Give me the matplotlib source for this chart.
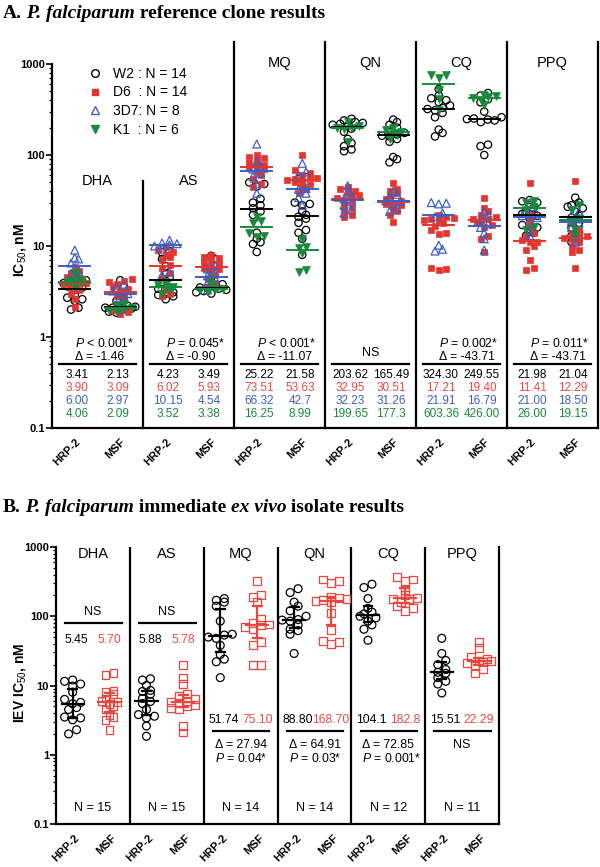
import numpy as np
import matplotlib
matplotlib.use('Agg')
import matplotlib.pyplot as plt
from matplotlib.transforms import blended_transform_factory
from matplotlib.lines import Line2D
from matplotlib.ticker import FixedLocator, NullFormatter, LogLocator

plt.rcParams['font.family'] = ['Liberation Sans', 'DejaVu Sans']
plt.rcParams['mathtext.fontset'] = 'custom'
plt.rcParams['mathtext.rm'] = 'Liberation Sans'
plt.rcParams['mathtext.it'] = 'Liberation Sans:italic'
plt.rcParams['mathtext.bf'] = 'Liberation Sans:bold'

# ---------------- categories ----------------
drugs = ['DHA', 'AS', 'MQ', 'QN', 'CQ', 'PPQ']
sites = ['HRP-2', 'MSF']
clones = ['W2', 'D6', '3D7', 'K1']
clone_legend = ['W2 : N = 14', 'D6  : N = 14', '3D7: N = 8', 'K1  : N = 6']

# ---------------- Panel A: reference clone IC50 (nM) ----------------
A_DHA_HRP2_W2 = [2.0, 2.1, 2.5, 2.6, 2.7, 2.9, 3.3, 3.5, 3.6, 3.8, 3.9, 4.0, 4.2, 4.5]
A_DHA_HRP2_D6 = [2.15, 2.6, 3.0, 3.3, 3.5, 3.8, 3.9, 3.9, 4.1, 4.3, 4.6, 5.0, 5.3, 5.9]
A_DHA_HRP2_3D7 = [4.3, 4.6, 5.0, 5.5, 6.5, 7.2, 7.4, 9.0]
A_DHA_HRP2_K1 = [3.6, 3.9, 4.0, 4.1, 4.3, 5.0]
A_DHA_MSF_W2 = [1.85, 1.9, 2.0, 2.05, 2.1, 2.1, 2.1, 2.15, 2.2, 2.5, 2.7, 3.3, 3.6, 4.2]
A_DHA_MSF_D6 = [1.8, 1.9, 2.0, 2.3, 2.6, 2.8, 3.0, 3.2, 3.4, 3.6, 3.8, 4.0, 4.1, 4.3]
A_DHA_MSF_3D7 = [2.0, 2.3, 2.6, 2.9, 3.0, 3.2, 3.5, 3.8]
A_DHA_MSF_K1 = [1.9, 2.0, 2.05, 2.1, 2.2, 2.3]

A_AS_HRP2_W2 = [2.6, 2.8, 2.9, 3.0, 3.1, 3.4, 4.0, 4.5, 4.9, 6.0, 7.2, 7.8, 8.5, 8.8]
A_AS_HRP2_D6 = [2.8, 3.0, 3.3, 3.8, 4.5, 5.0, 5.8, 6.2, 7.0, 7.5, 8.0, 8.5, 9.0, 9.8]
A_AS_HRP2_3D7 = [4.8, 5.2, 9.5, 10.0, 10.3, 10.6, 10.8, 11.6]
A_AS_HRP2_K1 = [3.0, 3.3, 3.5, 3.55, 3.7, 4.0]
A_AS_MSF_W2 = [3.0, 3.1, 3.2, 3.3, 3.4, 3.45, 3.5, 3.6, 3.8, 4.5, 5.5, 6.5, 7.2, 7.8]
A_AS_MSF_D6 = [3.5, 3.9, 4.3, 4.8, 5.2, 5.6, 5.8, 6.0, 6.3, 6.6, 7.0, 7.3, 7.6, 8.0]
A_AS_MSF_3D7 = [3.3, 3.6, 4.0, 4.4, 4.7, 5.0, 5.6, 6.2]
A_AS_MSF_K1 = [3.1, 3.3, 3.35, 3.4, 3.7, 4.3]

A_MQ_HRP2_W2 = [8.6, 10.5, 11, 12, 14, 22, 24, 26, 28, 30, 33, 45, 48, 50]
A_MQ_HRP2_D6 = [44, 48, 55, 60, 65, 70, 72, 75, 78, 82, 88, 92, 95, 100]
A_MQ_HRP2_3D7 = [38, 48, 58, 63, 70, 75, 85, 132]
A_MQ_HRP2_K1 = [12.5, 13, 14, 18, 19, 21]
A_MQ_MSF_W2 = [8, 12, 14, 15, 18, 20, 21, 22, 24, 28, 29, 30, 55, 57]
A_MQ_MSF_D6 = [38, 42, 45, 48, 50, 52, 53, 54, 56, 58, 60, 63, 68, 100]
A_MQ_MSF_3D7 = [28, 34, 38, 42, 43, 60, 65, 81]
A_MQ_MSF_K1 = [5.2, 5.4, 8.4, 9.6, 9.8, 12]

A_QN_HRP2_W2 = [110, 115, 125, 135, 150, 180, 195, 210, 215, 220, 225, 230, 240, 250]
A_QN_HRP2_D6 = [21, 22, 24, 26, 28, 31, 32, 34, 35, 36, 38, 40, 42, 45]
A_QN_HRP2_3D7 = [23, 25, 28, 31, 33, 36, 40, 46]
A_QN_HRP2_K1 = [140, 195, 200, 200, 210, 230]
A_QN_MSF_W2 = [83, 90, 95, 140, 150, 160, 163, 168, 175, 185, 200, 215, 230, 245]
A_QN_MSF_D6 = [18.5, 22, 24, 26, 28, 29, 30, 31, 33, 35, 38, 40, 42, 49]
A_QN_MSF_3D7 = [24, 26, 29, 31, 31.5, 34, 37, 40]
A_QN_MSF_K1 = [150, 165, 175, 180, 190, 200]

A_CQ_HRP2_W2 = [160, 175, 190, 260, 290, 310, 320, 330, 350, 380, 400, 420, 450, 530]
A_CQ_HRP2_D6 = [5.4, 5.6, 5.8, 13.5, 14, 15, 16.5, 18, 19, 19.5, 20, 20.5, 21, 22]
A_CQ_HRP2_3D7 = [8.8, 9.2, 10.2, 21, 23, 29, 29.5, 30]
A_CQ_HRP2_K1 = [310, 410, 520, 700, 750, 760]
A_CQ_MSF_W2 = [100, 125, 130, 230, 240, 245, 248, 252, 260, 300, 380, 410, 450, 480]
A_CQ_MSF_D6 = [8.6, 12, 13, 16, 17, 18, 19, 19.8, 20, 21, 22, 24, 26, 34]
A_CQ_MSF_3D7 = [9, 12, 14, 16, 17.5, 20, 22, 24]
A_CQ_MSF_K1 = [350, 400, 420, 430, 440, 460]

A_PPQ_HRP2_W2 = [13, 14, 15, 16, 17, 20, 21.5, 22.5, 24, 26, 28, 30, 31, 32]
A_PPQ_HRP2_D6 = [5.4, 5.8, 7, 9, 10, 11, 11.2, 11.6, 13, 14, 16, 19, 22, 49]
A_PPQ_HRP2_3D7 = [13, 15, 19, 20.5, 21.5, 24, 27, 30]
A_PPQ_HRP2_K1 = [15, 16, 25, 27, 30, 31]
A_PPQ_MSF_W2 = [11, 12, 13, 14, 16, 18, 20.5, 21.5, 24, 26, 27, 28, 30, 34]
A_PPQ_MSF_D6 = [5.7, 8.5, 9, 10, 11, 12, 12.2, 12.4, 13, 14, 15, 18, 20, 52]
A_PPQ_MSF_3D7 = [11, 13, 16, 18, 19, 20, 22, 24]
A_PPQ_MSF_K1 = [13, 15, 18.5, 19.8, 25, 28]

# medians (table) per column: DHA-HRP2, DHA-MSF, AS-HRP2, ...
A_MED_W2 = ['3.41', '2.13', '4.23', '3.49', '25.22', '21.58', '203.62', '165.49', '324.30', '249.55', '21.98', '21.04']
A_MED_D6 = ['3.90', '3.09', '6.02', '5.93', '73.51', '53.63', '32.95', '30.51', '17.21', '19.40', '11.41', '12.29']
A_MED_3D7 = ['6.00', '2.97', '10.15', '4.54', '66.32', '42.7', '32.23', '31.26', '21.91', '16.79', '21.00', '18.50']
A_MED_K1 = ['4.06', '2.09', '3.52', '3.38', '16.25', '8.99', '199.65', '177.3', '603.36', '426.00', '26.00', '19.15']
A_P = ['< 0.001*', '= 0.045*', '< 0.001*', None, '= 0.002*', '= 0.011*']
A_DELTA = ['-1.46', '-0.90', '-11.07', None, '-43.71', '-43.71']

# ---------------- Panel B: immediate ex vivo isolates IC50 (nM) ----------------
B_DHA_HRP2 = [2.0, 2.3, 3.2, 3.4, 3.5, 4.5, 4.8, 5.45, 5.7, 6.3, 8.0, 9.8, 10.5, 11.5, 12.0]
B_DHA_MSF = [2.3, 3.2, 3.5, 3.8, 4.5, 5.0, 5.4, 5.7, 6.0, 6.5, 7.5, 8.0, 8.3, 14.0, 15.0]
B_AS_HRP2 = [1.85, 2.6, 3.4, 3.6, 3.8, 4.5, 5.5, 5.88, 6.5, 7.5, 8.2, 8.5, 10.0, 12.0, 12.5]
B_AS_MSF = [2.1, 2.6, 4.5, 4.7, 5.0, 5.3, 5.6, 5.78, 6.0, 6.4, 7.0, 7.5, 10.5, 13.0, 20.0]
B_MQ_HRP2 = [13, 22, 24, 28, 38, 48, 50, 53.5, 55, 85, 140, 160, 170, 180]
B_MQ_MSF = [20, 20, 38, 42, 66, 70, 74, 76, 80, 90, 160, 190, 200, 320]
B_QN_HRP2 = [29, 55, 62, 65, 75, 85, 88, 89.6, 100, 120, 140, 160, 220, 250]
B_QN_MSF = [40, 42, 44, 63, 110, 160, 165, 172.4, 180, 185, 190, 300, 320, 340]
B_CQ_HRP2 = [45, 65, 75, 85, 95, 100, 108.2, 115, 130, 180, 260, 290]
B_CQ_MSF = [120, 130, 140, 160, 175, 180, 185.6, 200, 240, 320, 340, 370]
B_PPQ_HRP2 = [7.8, 10.5, 11.5, 13, 15, 15.51, 17, 20, 23, 29, 48]
B_PPQ_MSF = [15, 17.5, 19, 21, 22, 22.29, 23, 24, 26, 35, 42]
B_MED_TXT = ['5.45', '5.70', '5.88', '5.78', '51.74', '75.10', '88.80', '168.70', '104.1', '182.8', '15.51', '22.29']
B_N = [15, 15, 14, 14, 12, 11]
B_DELTA = [None, None, '27.94', '64.91', '72.85', None]
B_P = [None, None, '= 0.04*', '= 0.03*', '= 0.001*', None]

A_DATA = {
    'DHA': [[A_DHA_HRP2_W2, A_DHA_HRP2_D6, A_DHA_HRP2_3D7, A_DHA_HRP2_K1],
            [A_DHA_MSF_W2, A_DHA_MSF_D6, A_DHA_MSF_3D7, A_DHA_MSF_K1]],
    'AS': [[A_AS_HRP2_W2, A_AS_HRP2_D6, A_AS_HRP2_3D7, A_AS_HRP2_K1],
           [A_AS_MSF_W2, A_AS_MSF_D6, A_AS_MSF_3D7, A_AS_MSF_K1]],
    'MQ': [[A_MQ_HRP2_W2, A_MQ_HRP2_D6, A_MQ_HRP2_3D7, A_MQ_HRP2_K1],
           [A_MQ_MSF_W2, A_MQ_MSF_D6, A_MQ_MSF_3D7, A_MQ_MSF_K1]],
    'QN': [[A_QN_HRP2_W2, A_QN_HRP2_D6, A_QN_HRP2_3D7, A_QN_HRP2_K1],
           [A_QN_MSF_W2, A_QN_MSF_D6, A_QN_MSF_3D7, A_QN_MSF_K1]],
    'CQ': [[A_CQ_HRP2_W2, A_CQ_HRP2_D6, A_CQ_HRP2_3D7, A_CQ_HRP2_K1],
           [A_CQ_MSF_W2, A_CQ_MSF_D6, A_CQ_MSF_3D7, A_CQ_MSF_K1]],
    'PPQ': [[A_PPQ_HRP2_W2, A_PPQ_HRP2_D6, A_PPQ_HRP2_3D7, A_PPQ_HRP2_K1],
            [A_PPQ_MSF_W2, A_PPQ_MSF_D6, A_PPQ_MSF_3D7, A_PPQ_MSF_K1]],
}
A_MEDS = [A_MED_W2, A_MED_D6, A_MED_3D7, A_MED_K1]
B_DATA = [[B_DHA_HRP2, B_DHA_MSF], [B_AS_HRP2, B_AS_MSF], [B_MQ_HRP2, B_MQ_MSF],
          [B_QN_HRP2, B_QN_MSF], [B_CQ_HRP2, B_CQ_MSF], [B_PPQ_HRP2, B_PPQ_MSF]]

# ---------------- styles ----------------
RED = '#e5352f'
RED_TXT = '#ee4a45'
BLUE = '#3b5fc4'
GREEN = '#178a3b'
BRED = '#e8463f'
clone_style = [
    dict(marker='o', facecolors='none', edgecolors='black', s=28, linewidths=0.9),
    dict(marker='s', facecolors=RED, edgecolors=RED, s=22, linewidths=0.5),
    dict(marker='^', facecolors='none', edgecolors=BLUE, s=32, linewidths=0.9),
    dict(marker='v', facecolors=GREEN, edgecolors=GREEN, s=32, linewidths=0.5),
]
clone_line_col = ['black', RED, BLUE, GREEN]
clone_txt_col = ['black', RED_TXT, BLUE, GREEN]

W, H = 600, 867
fig = plt.figure(figsize=(W / 100, H / 100), dpi=100)
renderer = fig.canvas.get_renderer()


def rich(x_px, y_px, parts, size):
    x = x_px
    for s, style in parts:
        t = fig.text(x / W, 1 - y_px / H, s, fontsize=size, family='Liberation Serif',
                     weight='bold', style=style, va='baseline', ha='left')
        bb = t.get_window_extent(renderer=renderer)
        x += bb.width


def rows_scatter(ax, x0, vals, binh, spacing, max_half):
    """GraphPad-like scatter: values close in pixel height share a row, spread sideways."""
    vals = np.asarray(vals, float)
    pts = ax.transData.transform(np.column_stack([np.full(len(vals), x0), vals]))
    ys = pts[:, 1]
    order = np.argsort(ys)
    ppu = ax.transData.transform([[1, 1]])[0, 0] - ax.transData.transform([[0, 1]])[0, 0]
    half_px = max_half * ppu
    xs = np.full(len(vals), float(x0))
    bins = []
    cur = []
    start = None
    for i in order:
        if start is None or ys[i] - start > binh:
            if cur:
                bins.append(cur)
            cur = [i]
            start = ys[i]
        else:
            cur.append(i)
    if cur:
        bins.append(cur)
    for b in bins:
        n = len(b)
        if n == 1:
            continue
        sp = min(spacing, 2 * half_px / (n - 1))
        offs = (np.arange(n) - (n - 1) / 2.0) * sp
        seq = sorted(range(n), key=lambda t: (t % 2, t))
        for idx, o in zip([b[t] for t in seq], sorted(offs, key=abs)):
            xs[idx] = x0 + o / ppu
    return xs


def style_axis(ax, ytop):
    ax.set_yscale('log')
    ax.set_ylim(0.1, ytop)
    ax.set_xlim(0, 12)
    ax.spines['top'].set_visible(False)
    for sp in ['left', 'right', 'bottom']:
        ax.spines[sp].set_linewidth(1.6)
    ax.spines['left'].set_bounds(0.1, 1000)
    ax.yaxis.set_major_locator(FixedLocator([0.1, 1, 10, 100, 1000]))
    ax.set_yticklabels(['0.1', '1', '10', '100', '1000'], fontweight='bold', fontsize=8)
    ax.yaxis.set_minor_locator(LogLocator(base=10, subs=np.arange(2, 10)))
    ax.yaxis.set_minor_formatter(NullFormatter())
    ax.tick_params(axis='y', which='major', length=4, width=1.2, pad=1)
    ax.tick_params(axis='y', which='minor', length=2.5, width=0.9)
    ax.set_xticks([k + 0.5 for k in range(12)])
    ax.set_xticklabels(sites * 6, rotation=45, ha='right', va='top', rotation_mode='anchor',
                       fontweight='bold', fontsize=8)
    ax.tick_params(axis='x', length=0, pad=6)


# ================= Panel A =================
axA = fig.add_axes([52 / W, 1 - 428 / H, 546 / W, 386 / H])
ytopA = 10 ** (-1 + 386 / 91.0)
style_axis(axA, ytopA)
fig.text(20 / W, 1 - 250 / H, 'IC$_{50}$, nM', rotation=90, fontweight='bold', fontsize=10,
         ha='center', va='center')
tA = blended_transform_factory(axA.transData, axA.transAxes)

for k, d in enumerate(drugs):
    for j in range(2):
        xc = 2 * k + 0.5 + j
        col = 2 * k + j
        for ci in range(4):
            vals = A_DATA[d][j][ci]
            xs = rows_scatter(axA, xc, vals, 5.0, 7.5, 0.38)
            axA.scatter(xs, vals, zorder=3 + ci, clip_on=False, **clone_style[ci])
        for ci in range(4):
            m = float(A_MEDS[ci][col])
            axA.plot([xc - 0.34, xc + 0.34], [m, m], color=clone_line_col[ci], lw=1.4, zorder=8)
            axA.text(2 * k + 0.55 + 0.9 * j, [0.137, 0.103, 0.069, 0.035][ci], A_MEDS[ci][col],
                     transform=tA, ha='center', va='center', fontsize=8.5, color=clone_txt_col[ci])
    # stats
    axA.plot([2 * k + 0.15, 2 * k + 1.85], [0.166, 0.166], transform=tA, color='black', lw=1.6)
    if A_P[k] is None:
        axA.text(2 * k + 1.0, 0.194, 'NS', transform=tA, ha='center', va='center', fontsize=9)
    else:
        axA.text(2 * k + 0.5, 0.220, r'$\mathit{P}$ ' + A_P[k], transform=tA, ha='left',
                 va='center', fontsize=8.8)
        axA.text(2 * k + 0.5, 0.184, '\u0394 = ' + A_DELTA[k], transform=tA, ha='left',
                 va='center', fontsize=8.8)
    # drug label
    ylab = 0.64 if k < 2 else 0.945
    axA.text(2 * k + 1.0, ylab, d, transform=tA, ha='center', va='center', fontsize=10.5)

# dividers
axA.plot([2, 2], [0.1, 52], color='black', lw=1.6, clip_on=False, zorder=1)
for xv in [4, 6, 8, 10]:
    axA.plot([xv, xv], [0.1, ytopA], color='black', lw=1.6, clip_on=False, zorder=1)

handles = [Line2D([], [], linestyle='none', marker='o', markerfacecolor='none', markeredgecolor='black', markersize=5.5),
           Line2D([], [], linestyle='none', marker='s', markerfacecolor=RED, markeredgecolor=RED, markersize=4.5),
           Line2D([], [], linestyle='none', marker='^', markerfacecolor='none', markeredgecolor=BLUE, markersize=5.5),
           Line2D([], [], linestyle='none', marker='v', markerfacecolor=GREEN, markeredgecolor=GREEN, markersize=5.5)]
axA.legend(handles, clone_legend, loc='upper left', bbox_to_anchor=(0.055, 0.95), frameon=False,
           fontsize=10, handlelength=1.0, handletextpad=0.8, labelspacing=0.33, borderaxespad=0)

# ================= Panel B =================
axB = fig.add_axes([56 / W, 1 - 824 / H, 443 / W, 277 / H])
style_axis(axB, 1000)
fig.text(20 / W, 1 - 683 / H, 'IEV IC$_{50}$, nM', rotation=90, fontweight='bold', fontsize=10,
         ha='center', va='center')
tB = blended_transform_factory(axB.transData, axB.transAxes)
b_style = [dict(marker='o', facecolors='none', edgecolors='black', s=32, linewidths=0.9),
           dict(marker='s', facecolors='none', edgecolors=BRED, s=32, linewidths=0.9)]
b_col = ['black', BRED]
for k, d in enumerate(drugs):
    for j in range(2):
        xc = 2 * k + 0.45 + 1.0 * j
        vals = B_DATA[k][j]
        xs = rows_scatter(axB, xc, vals, 5.0, 8.0, 0.42)
        axB.scatter(xs, vals, zorder=3, **b_style[j])
        q1, med, q3 = np.percentile(vals, [25, 50, 75])
        axB.plot([xc, xc], [q1, q3], color=b_col[j], lw=1.6, zorder=5)
        for q in (q1, q3):
            axB.plot([xc - 0.12, xc + 0.12], [q, q], color=b_col[j], lw=1.6, zorder=5)
        axB.plot([xc - 0.3, xc + 0.3], [med, med], color=b_col[j], lw=1.6, zorder=5)
    hi = k < 2
    ynum = 0.664 if hi else 0.375
    yline = 0.726 if hi else 0.336
    axB.text(2 * k + 0.55, ynum, B_MED_TXT[2 * k], transform=tB, ha='center', va='center', fontsize=8.8, color='black')
    axB.text(2 * k + 1.45, ynum, B_MED_TXT[2 * k + 1], transform=tB, ha='center', va='center', fontsize=8.8, color=RED_TXT)
    axB.plot([2 * k + 0.25, 2 * k + 1.78], [yline, yline], transform=tB, color='black', lw=1.6)
    if B_DELTA[k] is None:
        axB.text(2 * k + 1.0, 0.765 if hi else 0.285, 'NS', transform=tB, ha='center', va='center', fontsize=9)
    else:
        axB.text(2 * k + 0.3, 0.285, '\u0394 = ' + B_DELTA[k], transform=tB, ha='left', va='center', fontsize=8.8)
        axB.text(2 * k + 0.3, 0.235, r'$\mathit{P}$ ' + B_P[k], transform=tB, ha='left', va='center', fontsize=8.8)
    axB.text(2 * k + 1.0, 0.058, 'N = %d' % B_N[k], transform=tB, ha='center', va='center', fontsize=9)
    axB.text(2 * k + 1.0, 0.975, d, transform=tB, ha='center', va='center', fontsize=10.5)
for xv in [2, 4, 6, 8, 10]:
    axB.plot([xv, xv], [0.1, 1000], color='black', lw=1.6, zorder=1)

# ================= titles =================
rich(3, 18, [('A.', 'normal'), (' P. falciparum', 'italic'), (' reference clone results', 'normal')], 14)
rich(3, 512, [('B.', 'normal'), (' P. falciparum', 'italic'), (' immediate ', 'normal'),
              ('ex vivo', 'italic'), (' isolate results', 'normal')], 14)

fig.savefig('out.png', dpi=100)
